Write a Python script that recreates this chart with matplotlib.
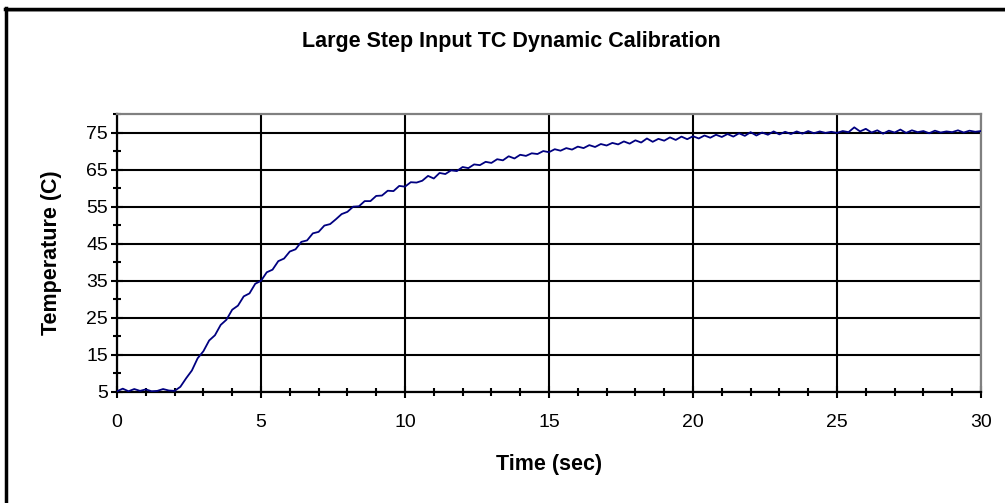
import numpy as np
import matplotlib
matplotlib.use("Agg")
import matplotlib.pyplot as plt
from matplotlib.ticker import MultipleLocator
from matplotlib.lines import Line2D

plt.rcParams['font.family'] = ['Liberation Sans', 'DejaVu Sans']

title = "Large Step Input TC Dynamic Calibration"
x_label = "Time (sec)"
y_label = "Temperature (C)"
x_ticks = [0, 5, 10, 15, 20, 25, 30]
y_ticks = [5, 15, 25, 35, 45, 55, 65, 75]

# sample times (s), every 0.2 s
time_s = np.round(np.arange(0, 30.0001, 0.2), 1)

temperature_c = [
    5.2, 5.9, 5.2, 5.8, 5.3, 5.7, 5.2, 5.3, 5.8, 5.4, 5.3,
    6.4, 8.7, 10.8, 14.1, 16.0, 18.9, 20.3, 23.1, 24.5, 27.2,
    28.3, 30.8, 31.6, 34.2, 35.0, 37.3, 38.0, 40.3, 41.0, 42.9,
    43.5, 45.5, 45.9, 47.8, 48.2, 49.9, 50.3, 51.6, 53.0, 53.6,
    55.0, 55.1, 56.5, 56.5, 57.9, 58.0, 59.3, 59.2, 60.6, 60.4,
    61.6, 61.5, 62.0, 63.3, 62.6, 64.1, 63.8, 64.8, 64.6, 65.7,
    65.4, 66.4, 66.2, 67.1, 66.8, 67.8, 67.5, 68.6, 68.0, 69.0,
    68.7, 69.4, 69.2, 70.0, 69.7, 70.5, 70.1, 70.8, 70.4, 71.2,
    70.8, 71.6, 71.1, 71.9, 71.5, 72.2, 71.8, 72.6, 72.0, 72.9,
    72.3, 73.4, 72.5, 73.3, 72.8, 73.7, 73.0, 73.9, 73.2, 74.0,
    73.4, 74.2, 73.6, 74.4, 73.8, 74.6, 73.9, 74.8, 74.1, 75.1,
    74.2, 75.0, 74.4, 75.3, 74.5, 75.2, 74.6, 75.3, 74.7, 75.4,
    74.8, 75.3, 74.9, 75.2, 74.9, 75.4, 75.1, 76.4, 75.3, 76.0,
    75.0, 75.6, 74.7, 75.5, 75.0, 75.8, 74.9, 75.6, 75.1, 75.4,
    74.8, 75.5, 75.0, 75.3, 75.1, 75.6, 75.0, 75.5, 75.2, 75.4,
]
assert len(time_s) == len(temperature_c)

W, H = 1005, 503
fig = plt.figure(figsize=(W / 100, H / 100), dpi=100)
fig.patch.set_facecolor('white')

left, right, top, bottom = 117, 981, 114, 392
ax = fig.add_axes([left / W, 1 - bottom / H, (right - left) / W, (bottom - top) / H])

ax.plot(time_s, temperature_c, color='#000080', lw=1.3, zorder=3)

ax.set_xlim(0, 30)
ax.set_ylim(5, 80)
ax.set_xticks(x_ticks)
ax.set_yticks(y_ticks)
ax.xaxis.set_minor_locator(MultipleLocator(1))
ax.yaxis.set_minor_locator(MultipleLocator(10))

ax.grid(True, which='major', color='black', lw=1.5, zorder=1)
ax.set_axisbelow(True)

for s in ['left', 'bottom']:
    ax.spines[s].set_color('black')
    ax.spines[s].set_linewidth(1.6)
for s in ['top', 'right']:
    ax.spines[s].set_color('#808080')
    ax.spines[s].set_linewidth(1.6)

ax.tick_params(which='major', direction='inout', length=9, width=1.5,
               labelsize=14, color='black')
ax.tick_params(which='minor', direction='inout', length=6, width=1.5, color='black')
ax.tick_params(axis='x', which='major', pad=11)
ax.tick_params(axis='y', which='major', pad=2)

ax.set_xlabel(x_label, fontsize=15.5, fontweight='bold', labelpad=17)
ax.set_ylabel(y_label, fontsize=15.5, fontweight='bold', labelpad=17)

fig.text(511 / W, 1 - 42 / H, title, fontsize=15.5, fontweight='bold',
         ha='center', va='center')

# outer chart border (top and left visible)
fig.add_artist(Line2D([6 / W, 1.0], [1 - 11 / H, 1 - 11 / H], color='#a0a0a0', lw=1.2))
fig.add_artist(Line2D([5 / W, 1.0], [1 - 9 / H, 1 - 9 / H], color='black', lw=2.5))
fig.add_artist(Line2D([6 / W, 6 / W], [0, 1 - 8 / H], color='black', lw=2.5))

fig.savefig('out.png', dpi=100, facecolor='white')
